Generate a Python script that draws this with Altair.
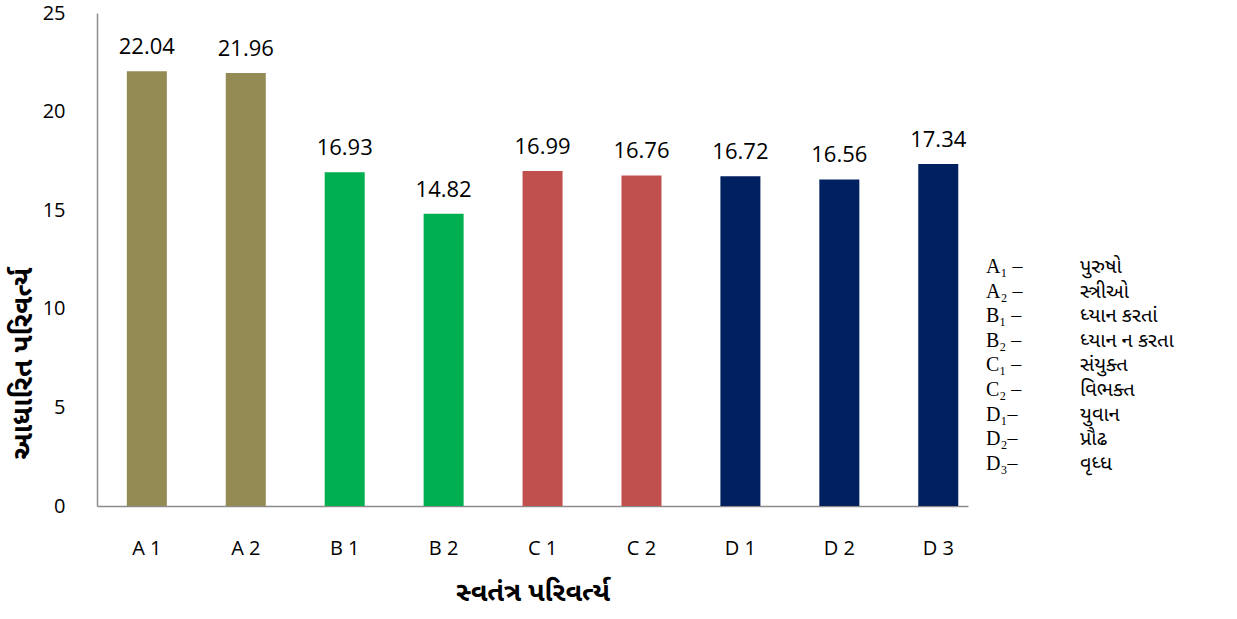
import altair as alt
import pandas as pd

categories = ["A 1", "A 2", "B 1", "B 2", "C 1", "C 2", "D 1", "D 2", "D 3"]
values = [22.04, 21.96, 16.93, 14.82, 16.99, 16.76, 16.72, 16.56, 17.34]
groups = ["A", "A", "B", "B", "C", "C", "D", "D", "D"]
group_names = ["A", "B", "C", "D"]
group_colors = ["#948A54", "#00B050", "#C0504D", "#002060"]
value_labels = ["22.04", "21.96", "16.93", "14.82", "16.99", "16.76", "16.72", "16.56", "17.34"]

legend_codes = ["A₁ –", "A₂ –", "B₁ –", "B₂ –", "C₁ –", "C₂ –", "D₁–", "D₂–", "D₃–"]
legend_names = ["પુરુષો", "સ્ત્રીઓ", "ધ્યાન કરતાં", "ધ્યાન ન કરતા", "સંયુક્ત", "વિભક્ત", "યુવાન", "પ્રૌઢ", "વૃધ્ધ"]

y_title = "આધારિત પરિવર્ત્ય"
x_title = "સ્વતંત્ર પરિવર્ત્ય"

df = pd.DataFrame({"cat": categories, "val": values, "grp": groups, "lab": value_labels})
leg = pd.DataFrame({"row": list(range(len(legend_codes))), "code": legend_codes, "name": legend_names})

NUM_FONT = "Open Sans"
GUJ_FONT = "Noto Sans Gujarati, Noto Serif Gujarati, Lohit Gujarati, Noto Sans"

x_enc = alt.X(
    "cat:N", sort=categories,
    scale=alt.Scale(paddingInner=0.5956, paddingOuter=0.2, align=0.754),
    axis=alt.Axis(
        title=x_title, labelAngle=0, ticks=False, labelPadding=32,
        labelFont=NUM_FONT, labelFontSize=20, labelColor="#000000",
        domainColor="#8C8C8C", domainWidth=1.5,
        titleFont=GUJ_FONT, titleFontSize=27, titleFontWeight="bold",
        titlePadding=21, titleColor="#000000",
    ),
)
y_enc = alt.Y(
    "val:Q", scale=alt.Scale(domain=[0, 25], nice=False),
    axis=alt.Axis(
        title=y_title, values=[0, 5, 10, 15, 20, 25], ticks=False, grid=False,
        labelPadding=32, labelFont=NUM_FONT, labelFontSize=20, labelColor="#000000",
        domainColor="#8C8C8C", domainWidth=1.5,
        titleFont=GUJ_FONT, titleFontSize=28, titleFontWeight="bold",
        titlePadding=5, titleY=350, titleColor="#000000",
    ),
)

bars = alt.Chart(df).mark_bar().encode(
    x=x_enc, y=y_enc,
    color=alt.Color("grp:N", scale=alt.Scale(domain=group_names, range=group_colors), legend=None),
)
labels = alt.Chart(df).mark_text(
    baseline="alphabetic", dy=-17, font=NUM_FONT, fontSize=22, color="#000000"
).encode(x=alt.X("cat:N", sort=categories), y="val:Q", text="lab:N")

main = alt.layer(bars, labels).properties(width=871, height=493)

leg_y = alt.Y("row:Q", scale=alt.Scale(domain=[-10.33, 9.72], reverse=True), axis=None)
leg_codes = alt.Chart(leg).mark_text(
    align="left", baseline="middle", font="Liberation Serif", fontSize=20, color="#000000"
).encode(x=alt.value(0), y=leg_y, text="code:N")
leg_names = alt.Chart(leg).mark_text(
    align="left", baseline="middle", font=GUJ_FONT, fontSize=20, color="#000000"
).encode(x=alt.value(94), y=leg_y, text="name:N")
legend_panel = alt.layer(leg_codes, leg_names).properties(width=230, height=493)

chart = alt.hconcat(main, legend_panel, spacing=18).properties(
    padding={"left": 9, "top": 3, "right": 0, "bottom": 0},
    background="#FFFFFF",
).configure_view(stroke=None)

chart.save("out.html", embed_options={"renderer": "svg", "actions": False})
